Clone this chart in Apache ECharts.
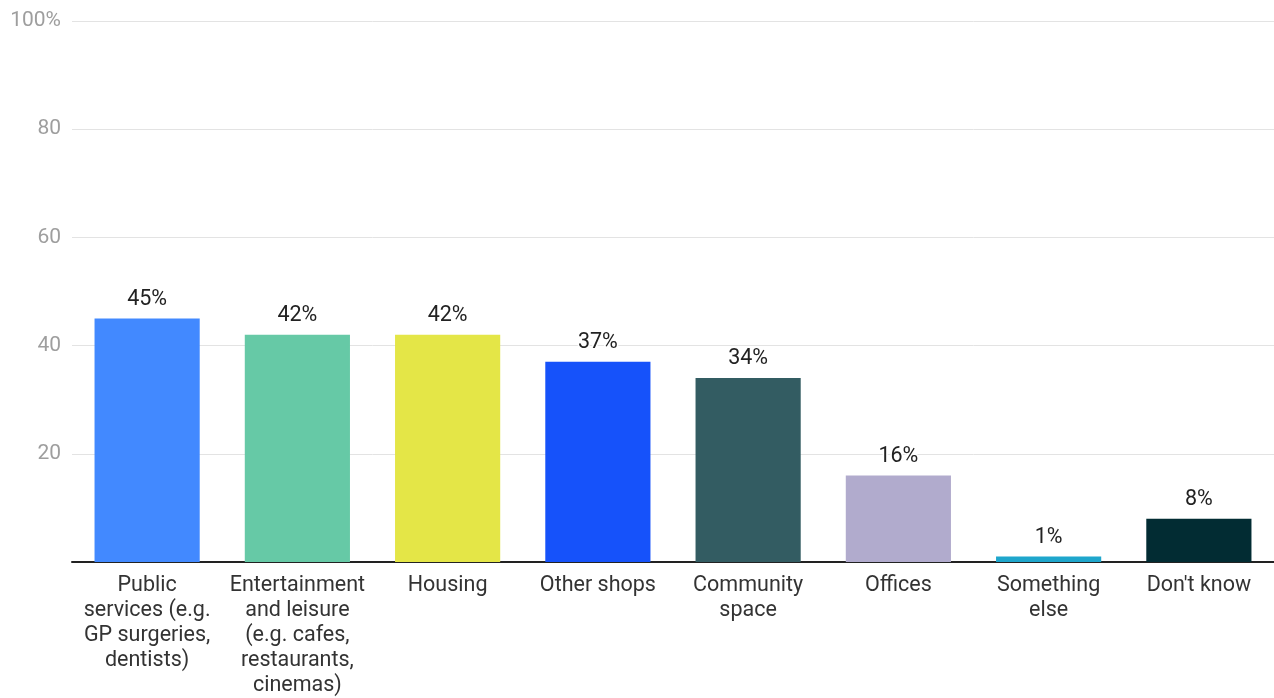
<!DOCTYPE html>
<html><head><meta charset="utf-8">
<script src="https://cdn.jsdelivr.net/npm/echarts@6/dist/echarts.min.js"></script>
<style>html,body{margin:0;padding:0;background:#fff}#c{width:1274px;height:698px}</style>
</head><body><div id="c"></div>
<script>
const categories = [
  "Public\nservices (e.g.\nGP surgeries,\ndentists)",
  "Entertainment\nand leisure\n(e.g. cafes,\nrestaurants,\ncinemas)",
  "Housing",
  "Other shops",
  "Community\nspace",
  "Offices",
  "Something\nelse",
  "Don't know"
];
const values = [45, 42, 42, 37, 34, 16, 1, 8];
const colors = ["#4289ff", "#66c9a6", "#e4e647", "#1652fa", "#335c62", "#b1abcd", "#1fa6cc", "#022c33"];
const yTicks = [0, 20, 40, 60, 80, 100];

const chart = echarts.init(document.getElementById('c'));
chart.setOption({
  animation: false,
  grid: {left: 72, right: 0, top: 21, bottom: 131, containLabel: false},
  xAxis: {
    type: 'category', data: categories,
    axisLine: {show: true, lineStyle: {color: '#222', width: 2}},
    axisTick: {show: false},
    axisLabel: {interval: 0, color: '#333', fontFamily: 'Roboto', fontSize: 21.5, lineHeight: 25, margin: 11}
  },
  yAxis: {
    type: 'value', min: 0, max: 100, interval: 20,
    axisLine: {show: false}, axisTick: {show: false},
    splitLine: {lineStyle: {color: '#e3e3e3', width: 1}},
    axisLabel: {
      color: '#9e9e9e', fontFamily: 'Roboto', fontSize: 21, margin: 11,
      formatter: v => v === 0 ? '' : (v === yTicks[yTicks.length - 1] ? v + '%' : String(v))
    }
  },
  series: [{
    type: 'bar', barCategoryGap: '30%',
    data: values.map((v, i) => ({value: v, itemStyle: {color: colors[i]}})),
    label: {
      show: true, position: 'top', distance: 8, formatter: '{c}%',
      color: '#222', fontFamily: 'Roboto', fontSize: 21.5,
      textBorderColor: '#fff', textBorderWidth: 3
    }
  }]
});
</script></body></html>
